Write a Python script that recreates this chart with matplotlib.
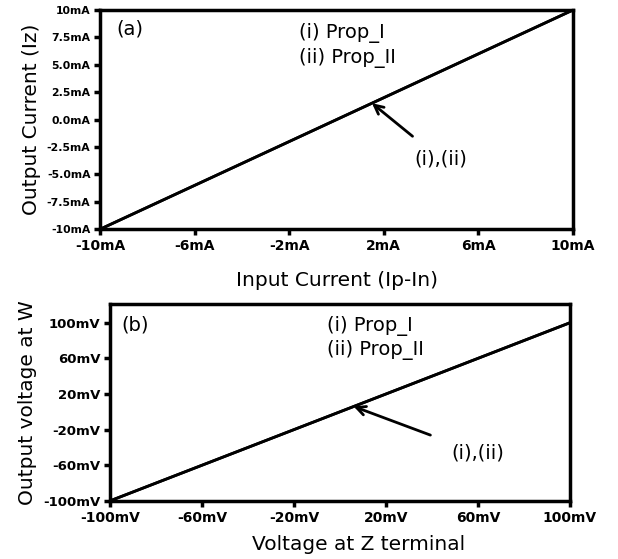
import numpy as np
import matplotlib
matplotlib.use("Agg")
import matplotlib.pyplot as plt

# panel (a): output current vs input current (mA)
iin = [-10, 10]
iz_prop1 = [-10, 10]
iz_prop2 = [-10, 10]
xticks_a = [-10, -6, -2, 2, 6, 10]
xlabels_a = ["-10mA", "-6mA", "-2mA", "2mA", "6mA", "10mA"]
yticks_a = [10, 7.5, 5.0, 2.5, 0.0, -2.5, -5.0, -7.5, -10]
ylabels_a = ["10mA", "7.5mA", "5.0mA", "2.5mA", "0.0mA", "-2.5mA", "-5.0mA", "-7.5mA", "-10mA"]

# panel (b): voltage at W vs voltage at Z (mV)
vz = [-100, 100]
vw_prop1 = [-100, 100]
vw_prop2 = [-100, 100]
xticks_b = [-100, -60, -20, 20, 60, 100]
xlabels_b = ["-100mV", "-60mV", "-20mV", "20mV", "60mV", "100mV"]
yticks_b = [100, 60, 20, -20, -60, -100]
ylabels_b = ["100mV", "60mV", "20mV", "-20mV", "-60mV", "-100mV"]

plt.rcParams['font.family'] = ['DejaVu Sans']

fig = plt.figure(figsize=(6.18, 5.59), dpi=100)
ax1 = fig.add_axes([0.162, 0.590, 0.765, 0.392])
ax2 = fig.add_axes([0.178, 0.104, 0.744, 0.352])

def style(ax):
    for s in ax.spines.values():
        s.set_linewidth(2.5)
    ax.tick_params(direction='out', length=4, width=2.5, pad=3)

# (a)
ax1.plot(iin, iz_prop1, color='black', lw=2)
ax1.plot(iin, iz_prop2, color='black', lw=2)
ax1.set_xlim(-10, 10)
ax1.set_ylim(-10, 10)
ax1.set_xticks(xticks_a)
ax1.set_xticklabels(xlabels_a, fontsize=10, fontweight='bold')
ax1.set_yticks(yticks_a)
ax1.set_yticklabels(ylabels_a, fontsize=7.8, fontweight='bold')
ax1.tick_params(axis='x', pad=8)
ax1.set_xlabel("Input Current (Ip-In)", fontsize=14.5, labelpad=13)
ax1.set_ylabel("Output Current (Iz)", fontsize=14.5, labelpad=4)
ax1.text(-9.3, 8.3, "(a)", fontsize=14, va='center')
ax1.text(-1.6, 7.9, "(i) Prop_I", fontsize=14, va='center')
ax1.text(-1.6, 5.6, "(ii) Prop_II", fontsize=14, va='center')
ax1.annotate("(i),(ii)", xy=(1.5, 1.5), xytext=(4.4, -3.6), fontsize=14,
             ha='center', va='center',
             arrowprops=dict(arrowstyle='->', lw=2, color='black',
                             shrinkA=12, shrinkB=0, mutation_scale=16))
style(ax1)

# (b)
ax2.plot(vz, vw_prop1, color='black', lw=2)
ax2.plot(vz, vw_prop2, color='black', lw=2)
ax2.set_xlim(-100, 100)
ax2.set_ylim(-100, 121)
ax2.set_xticks(xticks_b)
ax2.set_xticklabels(xlabels_b, fontsize=10, fontweight='bold')
ax2.set_yticks(yticks_b)
ax2.set_yticklabels(ylabels_b, fontsize=9.5, fontweight='bold')
ax2.tick_params(axis='x', pad=8)
ax2.set_xlabel("Voltage at Z terminal", fontsize=14.5, labelpad=4)
ax2.xaxis.set_label_coords(0.54, -0.175)
ax2.set_ylabel("Output voltage at W", fontsize=14.5, labelpad=4)
ax2.text(-95, 98, "(b)", fontsize=14, va='center')
ax2.text(-5.7, 96, "(i) Prop_I", fontsize=14, va='center')
ax2.text(-5.7, 70, "(ii) Prop_II", fontsize=14, va='center')
ax2.annotate("(i),(ii)", xy=(6, 6), xytext=(60, -46), fontsize=14,
             ha='center', va='center',
             arrowprops=dict(arrowstyle='->', lw=2, color='black',
                             shrinkA=14, shrinkB=0, mutation_scale=16))
style(ax2)

fig.savefig("out.png", dpi=100)
